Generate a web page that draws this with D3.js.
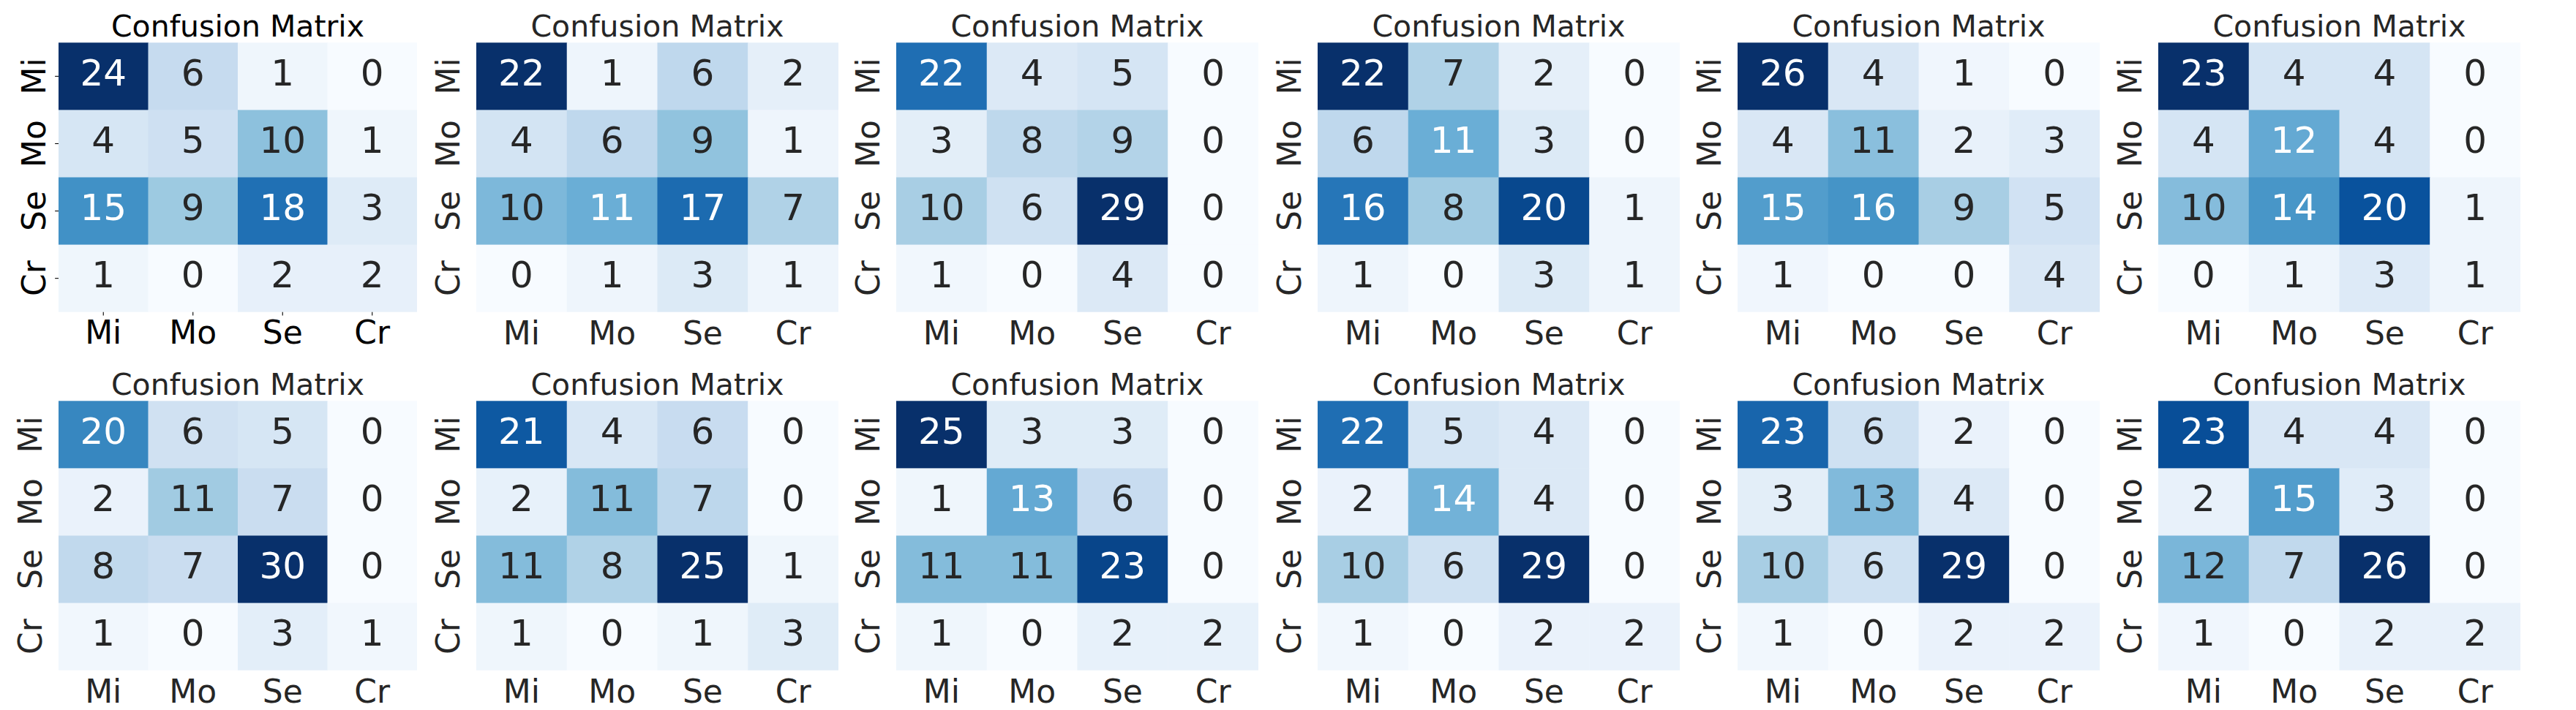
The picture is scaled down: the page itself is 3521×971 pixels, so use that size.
<!DOCTYPE html>
<html>
<head>
<meta charset="utf-8">
<script src="https://cdn.jsdelivr.net/npm/d3@7"></script>
<style>
  html, body { margin: 0; padding: 0; background: #ffffff; }
  svg { display: block; font-family: "DejaVu Sans", sans-serif; }
</style>
</head>
<body>
<svg id="chart" width="3521" height="971"></svg>
<script>
// ---- data ----
const categories = ["Mi", "Mo", "Se", "Cr"];
const chartTitle = "Confusion Matrix";

const cm01 = [[24, 6, 1, 0], [4, 5, 10, 1], [15, 9, 18, 3], [1, 0, 2, 2]];
const cm02 = [[22, 1, 6, 2], [4, 6, 9, 1], [10, 11, 17, 7], [0, 1, 3, 1]];
const cm03 = [[22, 4, 5, 0], [3, 8, 9, 0], [10, 6, 29, 0], [1, 0, 4, 0]];
const cm04 = [[22, 7, 2, 0], [6, 11, 3, 0], [16, 8, 20, 1], [1, 0, 3, 1]];
const cm05 = [[26, 4, 1, 0], [4, 11, 2, 3], [15, 16, 9, 5], [1, 0, 0, 4]];
const cm06 = [[23, 4, 4, 0], [4, 12, 4, 0], [10, 14, 20, 1], [0, 1, 3, 1]];
const cm07 = [[20, 6, 5, 0], [2, 11, 7, 0], [8, 7, 30, 0], [1, 0, 3, 1]];
const cm08 = [[21, 4, 6, 0], [2, 11, 7, 0], [11, 8, 25, 1], [1, 0, 1, 3]];
const cm09 = [[25, 3, 3, 0], [1, 13, 6, 0], [11, 11, 23, 0], [1, 0, 2, 2]];
const cm10 = [[22, 5, 4, 0], [2, 14, 4, 0], [10, 6, 29, 0], [1, 0, 2, 2]];
const cm11 = [[23, 6, 2, 0], [3, 13, 4, 0], [10, 6, 29, 0], [1, 0, 2, 2]];
const cm12 = [[23, 4, 4, 0], [2, 15, 3, 0], [12, 7, 26, 0], [1, 0, 2, 2]];

const matrices = [cm01, cm02, cm03, cm04, cm05, cm06, cm07, cm08, cm09, cm10, cm11, cm12];

// matplotlib "Blues" anchor colours
const bluesHex = ["#f7fbff", "#deebf7", "#c6dbef", "#9ecae1", "#6baed6", "#4292c6", "#2171b5", "#08519c", "#08306b"];

// ---- layout ----
const nCols = 6;
const axRights = [570, 1146, 1720, 2296, 2870, 3445];
const axWidths = [490, 495, 495, 495, 495, 495];
const rowTops = [58.3, 548.3], axH = 368.4;
const titleSize = 41, tickSize = 44, annotSize = 50;

const blues = d3.scaleLinear()
  .domain(d3.range(bluesHex.length).map(i => i / (bluesHex.length - 1)))
  .range(bluesHex)
  .interpolate(d3.interpolateRgb);

function lum(c) {
  const rgb = d3.rgb(c);
  const f = v => { v /= 255; return v <= 0.03928 ? v / 12.92 : Math.pow((v + 0.055) / 1.055, 2.4); };
  return 0.2126 * f(rgb.r) + 0.7152 * f(rgb.g) + 0.0722 * f(rgb.b);
}

const svg = d3.select("#chart");
svg.append("rect").attr("width", 3521).attr("height", 971).attr("fill", "#ffffff");

matrices.forEach((m, k) => {
  const col = k % nCols, row = Math.floor(k / nCols);
  const axW = axWidths[col];
  const left = axRights[col] - axW;
  const top = rowTops[row];
  const first = k === 0;
  const textColor = first ? "#000000" : "#262626";

  const x = d3.scaleBand().domain(categories).range([left, left + axW]).padding(0);
  const y = d3.scaleBand().domain(categories).range([top, top + axH]).padding(0);

  const flat = m.flat();
  const [vmin, vmax] = d3.extent(flat);
  const norm = d3.scaleLinear().domain([vmin, vmax]).range([0, 1]).clamp(true);
  const cmap = v => {
    const idx = Math.min(Math.floor(norm(v) * 256), 255);
    return blues(idx / 255);
  };

  const cells = [];
  m.forEach((r, i) => r.forEach((v, j) => cells.push({ row: categories[i], col: categories[j], v })));

  const g = svg.append("g");

  g.selectAll("rect.cell").data(cells).join("rect")
    .attr("class", "cell")
    .attr("x", d => x(d.col))
    .attr("y", d => y(d.row))
    .attr("width", d => x.bandwidth() + (d.col === categories[categories.length - 1] ? 0 : 0.5))
    .attr("height", d => y.bandwidth() + (d.row === categories[categories.length - 1] ? 0 : 0.5))
    .attr("fill", d => cmap(d.v));

  g.selectAll("text.annot").data(cells).join("text")
    .attr("class", "annot")
    .attr("x", d => x(d.col) + x.bandwidth() / 2)
    .attr("y", d => y(d.row) + y.bandwidth() / 2 + annotSize * 0.25)
    .attr("text-anchor", "middle")
    .attr("font-size", annotSize)
    .attr("fill", d => lum(cmap(d.v)) > 0.408 ? "#262626" : "#ffffff")
    .text(d => d.v);

  // x axis
  const tLen = first ? 4.86 : 0;
  const xPad = first ? (43.3 - tLen - 0.71 * tickSize) : (44 - 0.71 * tickSize);
  const xa = g.append("g")
    .attr("transform", `translate(0,${top + axH})`)
    .call(d3.axisBottom(x).tickSize(tLen).tickPadding(xPad));
  xa.select(".domain").remove();
  xa.selectAll("line").attr("stroke", "#000").attr("stroke-width", 1.1).attr("opacity", first ? 1 : 0);
  xa.selectAll("text").attr("font-size", tickSize).attr("fill", textColor)
    .attr("font-family", "DejaVu Sans, sans-serif");

  // y axis
  const yOff = first ? 18 : 23;
  const ya = g.append("g")
    .attr("transform", `translate(${left},0)`)
    .call(d3.axisLeft(y).tickSize(tLen));
  ya.select(".domain").remove();
  ya.selectAll("line").attr("stroke", "#000").attr("stroke-width", 1.1).attr("opacity", first ? 1 : 0);
  ya.selectAll("text")
    .attr("x", null).attr("dy", null)
    .attr("text-anchor", "middle")
    .attr("transform", `translate(${-yOff},0) rotate(-90)`)
    .attr("font-size", tickSize).attr("fill", textColor)
    .attr("font-family", "DejaVu Sans, sans-serif");

  // title
  g.append("text")
    .attr("x", left + axW / 2)
    .attr("y", top - 8.3)
    .attr("text-anchor", "middle")
    .attr("font-size", titleSize)
    .attr("fill", textColor)
    .text(chartTitle);
});
</script>
</body>
</html>
